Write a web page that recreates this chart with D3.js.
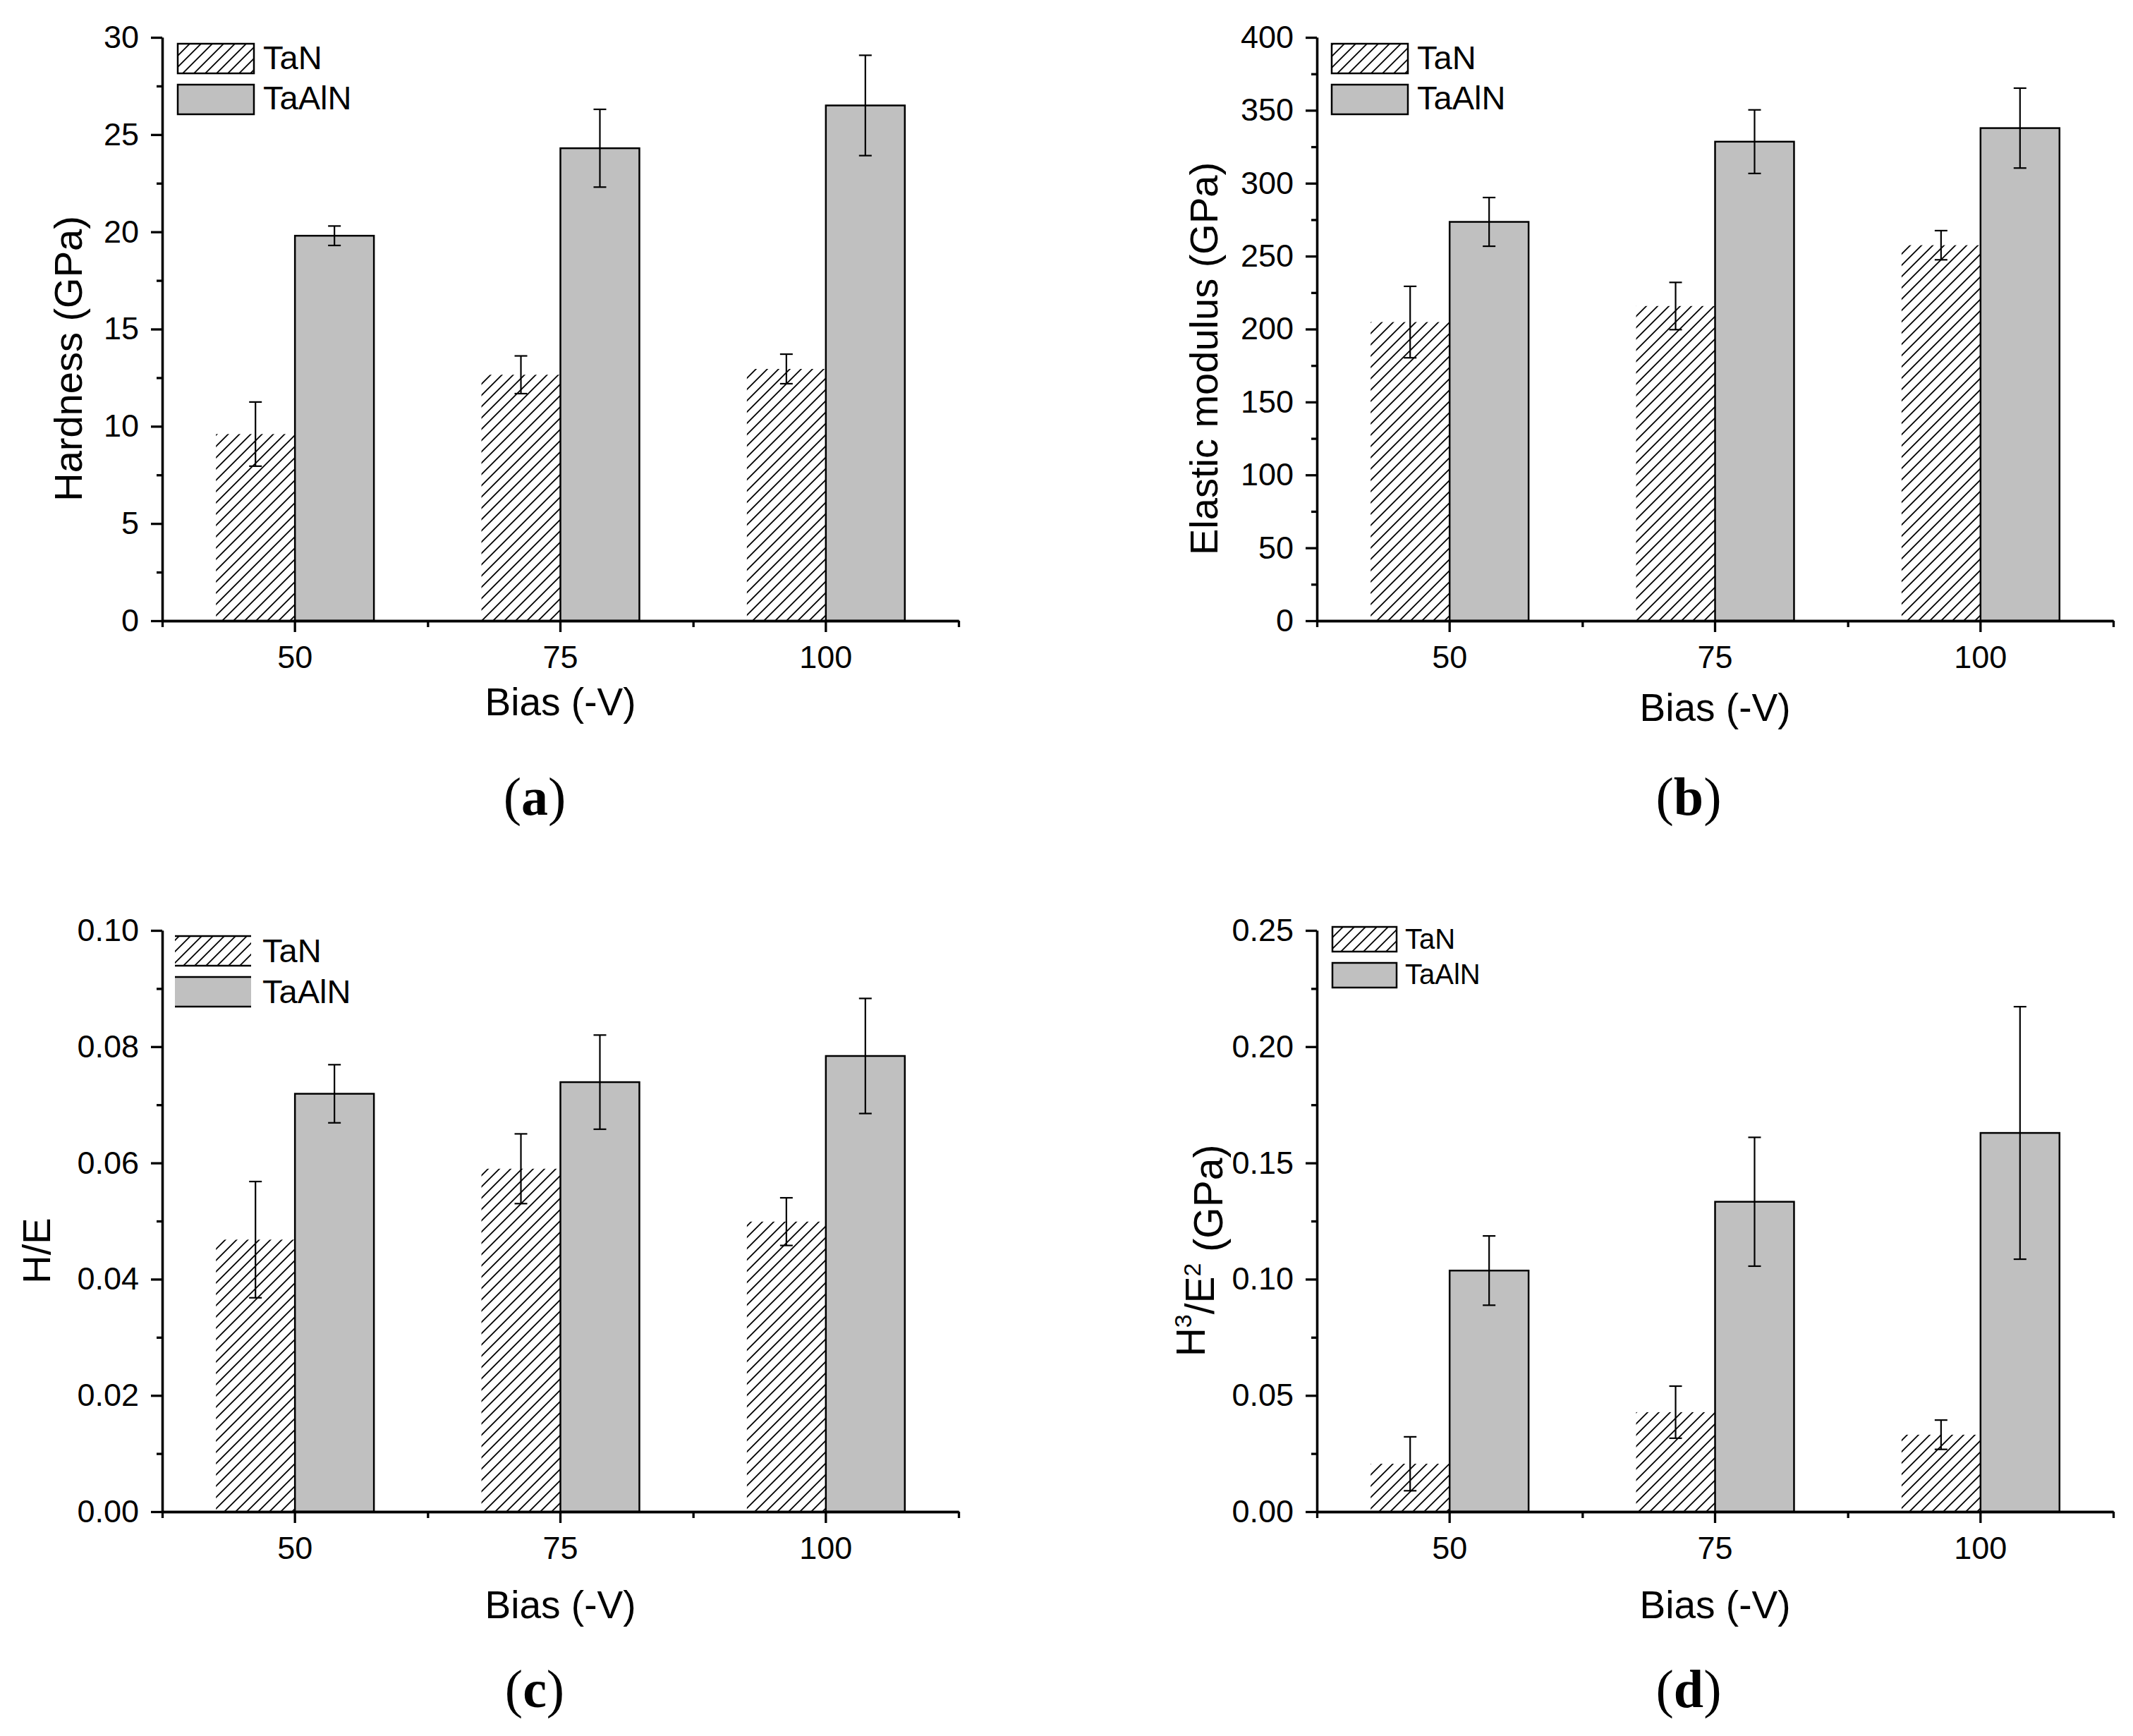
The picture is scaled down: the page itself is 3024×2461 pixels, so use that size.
<!DOCTYPE html>
<html>
<head>
<meta charset="utf-8">
<script src="https://cdn.jsdelivr.net/npm/d3@7"></script>
<style>
  body { margin: 0; background: #fff; }
  text { font-family: "Liberation Sans", Arial, sans-serif; fill: #000; }
</style>
</head>
<body>
<svg id="chart"></svg>
<script>
// Categories and series
var biasLevels = ["50", "75", "100"];
var seriesNames = ["TaN", "TaAlN"];

// (a) Hardness (GPa)
var hardnessTaN = [9.6, 12.65, 12.95];
var hardnessTaNErr = [1.65, 0.97, 0.76];
var hardnessTaAlN = [19.8, 24.3, 26.5];
var hardnessTaAlNErr = [0.5, 2.0, 2.58];
var hardnessTicks = [0, 5, 10, 15, 20, 25, 30];

// (b) Elastic modulus (GPa)
var modulusTaN = [204.8, 215.8, 257.5];
var modulusTaNErr = [24.5, 16.2, 10.0];
var modulusTaAlN = [273.5, 328.5, 337.8];
var modulusTaAlNErr = [16.7, 21.8, 27.4];
var modulusTicks = [0, 50, 100, 150, 200, 250, 300, 350, 400];

// (c) H/E
var heTaN = [0.0468, 0.0590, 0.0499];
var heTaNErr = [0.0100, 0.0060, 0.0041];
var heTaAlN = [0.0719, 0.0739, 0.0784];
var heTaAlNErr = [0.0050, 0.0081, 0.0099];
var heTicks = [0, 0.02, 0.04, 0.06, 0.08, 0.10];

// (d) H3/E2 (GPa)
var h3e2TaN = [0.0206, 0.0428, 0.0331];
var h3e2TaNErr = [0.0116, 0.0112, 0.0063];
var h3e2TaAlN = [0.1037, 0.1333, 0.1629];
var h3e2TaAlNErr = [0.0149, 0.0277, 0.0543];
var h3e2Ticks = [0, 0.05, 0.10, 0.15, 0.20, 0.25];

var svg = d3.select("#chart")
  .attr("width", 3024)
  .attr("height", 2461);

// hatch pattern for TaN
var defs = svg.append("defs");
defs.append("pattern")
    .attr("id", "hatch")
    .attr("patternUnits", "userSpaceOnUse")
    .attr("width", 16)
    .attr("height", 16)
  .append("path")
    .attr("d", "M0,16 L16,0 M-4,4 L4,-4 M12,20 L20,12")
    .attr("stroke", "#000")
    .attr("stroke-width", 1.8);

// panel layout (pixels)
var panels = [
  {left: 230, right: 1359, top: 53, bottom: 880,
   vals: [hardnessTaN, hardnessTaAlN], errs: [hardnessTaNErr, hardnessTaAlNErr],
   ticks: hardnessTicks, fmt: d3.format("d"),
   title: ["Hardness (GPa)"], titleX: 96, biasOff: 114,
   caption: "a", capX: 758, capY: 1155,
   legend: {sx: 22, sw: 108, sh: 42, y1: 9, y2: 67, tx: 143, b1: 45, b2: 102, fs: 47, box: true}},
  {left: 1867, right: 2996, top: 53, bottom: 880,
   vals: [modulusTaN, modulusTaAlN], errs: [modulusTaNErr, modulusTaAlNErr],
   ticks: modulusTicks, fmt: d3.format("d"),
   title: ["Elastic modulus (GPa)"], titleX: 1706, biasOff: 122,
   caption: "b", capX: 2394, capY: 1155,
   legend: {sx: 21, sw: 108, sh: 42, y1: 9, y2: 67, tx: 142, b1: 45, b2: 102, fs: 47, box: true}},
  {left: 230, right: 1359, top: 1319, bottom: 2143,
   vals: [heTaN, heTaAlN], errs: [heTaNErr, heTaAlNErr],
   ticks: heTicks, fmt: d3.format(".2f"),
   title: ["H/E"], titleX: 51, biasOff: 131,
   caption: "c", capX: 758, capY: 2420,
   legend: {sx: 18, sw: 108, sh: 42, y1: 8, y2: 66, tx: 142, b1: 45, b2: 103, fs: 47, box: false}},
  {left: 1867, right: 2996, top: 1319, bottom: 2143,
   vals: [h3e2TaN, h3e2TaAlN], errs: [h3e2TaNErr, h3e2TaAlNErr],
   ticks: h3e2Ticks, fmt: d3.format(".2f"),
   title: ["H", "3", "/E", "2", " (GPa)"], titleX: 1688, biasOff: 131,
   caption: "d", capX: 2394, capY: 2420,
   legend: {sx: 22, sw: 91, sh: 35, y1: -5, y2: 46, tx: 125, b1: 26, b2: 76, fs: 40, box: true}}
];

panels.forEach(function(p) {
  var w = p.right - p.left;
  var h = p.bottom - p.top;
  var g = svg.append("g").attr("transform", "translate(" + p.left + "," + p.top + ")");

  var x0 = d3.scaleBand().domain(biasLevels).range([0, w]);
  var barW = x0.step() * 0.2975;
  var x1 = d3.scaleBand().domain(seriesNames).range([-barW, barW]);
  var y = d3.scaleLinear().domain([p.ticks[0], p.ticks[p.ticks.length - 1]]).range([h, 0]);

  // minor tick values halfway between majors
  var minor = d3.pairs(p.ticks).map(function(t) { return (t[0] + t[1]) / 2; });

  // bars
  seriesNames.forEach(function(s, si) {
    var data = biasLevels.map(function(b, i) {
      return {bias: b, v: p.vals[si][i], e: p.errs[si][i]};
    });
    var cx = function(d) { return x0(d.bias) + x0.bandwidth() / 2 + x1(s); };

    g.selectAll(".bar-" + s)
      .data(data)
      .enter()
    .append("rect")
      .attr("x", cx)
      .attr("y", function(d) { return y(d.v); })
      .attr("width", x1.bandwidth())
      .attr("height", function(d) { return h - y(d.v); })
      .attr("fill", si === 0 ? "url(#hatch)" : "#c0c0c0")
      .attr("stroke", si === 0 ? "none" : "#000")
      .attr("stroke-width", 2.5);

    // error bars
    var eb = g.selectAll(".err-" + s)
      .data(data)
      .enter()
    .append("g")
      .attr("transform", function(d) { return "translate(" + (cx(d) + x1.bandwidth() / 2) + ",0)"; })
      .attr("stroke", "#000")
      .attr("stroke-width", 2.2);
    eb.append("line")
      .attr("y1", function(d) { return y(d.v + d.e); })
      .attr("y2", function(d) { return y(d.v - d.e); });
    eb.append("line").attr("x1", -9).attr("x2", 9)
      .attr("y1", function(d) { return y(d.v + d.e); })
      .attr("y2", function(d) { return y(d.v + d.e); });
    eb.append("line").attr("x1", -9).attr("x2", 9)
      .attr("y1", function(d) { return y(d.v - d.e); })
      .attr("y2", function(d) { return y(d.v - d.e); });
  });

  // y axis, major and minor
  g.append("g")
    .attr("class", "axis")
    .call(d3.axisLeft(y).tickValues(p.ticks).tickFormat(p.fmt).tickSize(16).tickSizeOuter(0).tickPadding(17));
  g.append("g")
    .attr("class", "axis")
    .call(d3.axisLeft(y).tickValues(minor).tickFormat("").tickSize(8).tickSizeOuter(0));

  // x axis, major at centres and minor at band edges
  g.append("g")
    .attr("class", "axis")
    .attr("transform", "translate(0," + h + ")")
    .call(d3.axisBottom(x0).tickSize(16).tickSizeOuter(0).tickPadding(19));
  var xe = d3.scaleLinear().domain([0, biasLevels.length]).range([0, w]);
  g.append("g")
    .attr("class", "axis")
    .attr("transform", "translate(0," + h + ")")
    .call(d3.axisBottom(xe).tickValues([0, 1, 2, 3]).tickFormat("").tickSize(9).tickSizeOuter(0));

  // titles
  g.append("text")
    .attr("x", w / 2)
    .attr("y", h + p.biasOff + 20)
    .attr("text-anchor", "middle")
    .style("font-size", "55px")
    .text("Bias (-V)");

  var yt = svg.append("text")
    .attr("transform", "translate(" + p.titleX + "," + (p.top + h / 2 + 42) + ") rotate(-90)")
    .attr("text-anchor", "middle")
    .attr("dy", "0.36em")
    .style("font-size", "56px");
  if (p.title.length === 1) {
    yt.text(p.title[0]);
  } else {
    p.title.forEach(function(part, i) {
      var sup = (i === 1 || i === 3);
      yt.append("tspan")
        .attr("dy", sup ? "-0.55em" : (i > 0 ? "0.55em" : null))
        .style("font-size", sup ? "34px" : "57px")
        .text(part);
    });
  }

  // legend
  var L = p.legend;
  var lg = g.append("g");
  [L.y1, L.y2].forEach(function(yy, i) {
    lg.append("rect")
      .attr("x", L.sx).attr("y", yy)
      .attr("width", L.sw).attr("height", L.sh)
      .attr("fill", i === 0 ? "url(#hatch)" : "#c0c0c0")
      .attr("stroke", L.box ? "#000" : "none")
      .attr("stroke-width", 2.5);
    if (!L.box) {
      lg.append("line").attr("x1", L.sx).attr("x2", L.sx + L.sw).attr("y1", yy).attr("y2", yy)
        .attr("stroke", "#000").attr("stroke-width", 2.5);
      lg.append("line").attr("x1", L.sx).attr("x2", L.sx + L.sw).attr("y1", yy + L.sh).attr("y2", yy + L.sh)
        .attr("stroke", "#000").attr("stroke-width", 2.5);
    }
    lg.append("text")
      .attr("x", L.tx)
      .attr("y", i === 0 ? L.b1 : L.b2)
      .style("font-size", L.fs + "px")
      .text(seriesNames[i]);
  });

  // panel caption
  var cap = svg.append("text")
    .attr("x", p.capX)
    .attr("y", p.capY)
    .attr("text-anchor", "middle")
    .style("font-family", "'Liberation Serif', 'DejaVu Serif', serif")
    .style("font-size", "76px");
  cap.append("tspan").text("(");
  cap.append("tspan").style("font-weight", "bold").text(p.caption);
  cap.append("tspan").text(")");
});

// axis styling
svg.selectAll(".axis path.domain").attr("stroke-width", 3.3);
svg.selectAll(".axis .tick line").attr("stroke-width", 3.3);
svg.selectAll(".axis .tick text")
  .style("font-family", "'Liberation Sans', Arial, sans-serif")
  .style("font-size", "45px");
</script>
</body>
</html>
